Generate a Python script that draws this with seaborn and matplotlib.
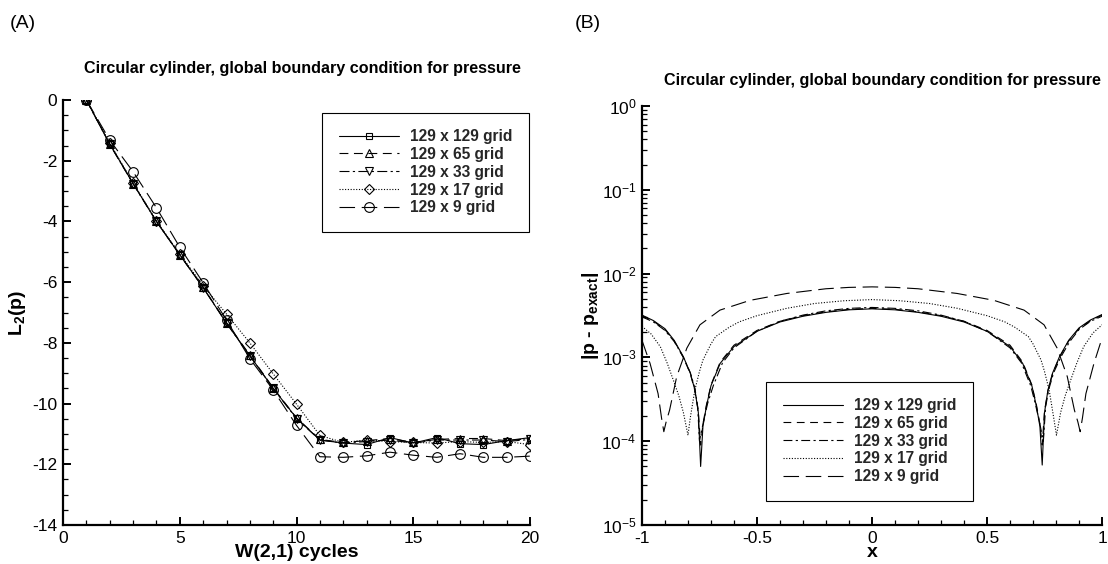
import matplotlib
matplotlib.use("Agg")
import matplotlib.pyplot as plt
import seaborn as sns
from matplotlib.ticker import MultipleLocator, LogLocator, FuncFormatter, NullFormatter
from matplotlib.lines import Line2D

# ---------------- data: panel (A) ----------------
cycles = list(range(1, 21))
l2_129x129 = [0.0, -1.45, -2.75, -4.0, -5.1, -6.18, -7.35, -8.42, -9.5, -10.48,
              -11.2, -11.3, -11.35, -11.12, -11.3, -11.12, -11.32, -11.35, -11.22, -11.12]
l2_129x65 = [0.0, -1.45, -2.75, -4.0, -5.1, -6.17, -7.33, -8.4, -9.48, -10.47,
             -11.18, -11.28, -11.22, -11.15, -11.28, -11.18, -11.15, -11.15, -11.22, -11.15]
l2_129x33 = [0.0, -1.46, -2.76, -4.0, -5.1, -6.18, -7.35, -8.43, -9.5, -10.5,
             -11.2, -11.3, -11.25, -11.2, -11.3, -11.2, -11.2, -11.2, -11.25, -11.18]
l2_129x17 = [0.0, -1.42, -2.73, -3.98, -5.07, -6.12, -7.05, -8.0, -9.02, -10.02,
             -11.05, -11.28, -11.2, -11.25, -11.28, -11.3, -11.25, -11.28, -11.25, -11.35]
l2_129x9 = [0.0, -1.32, -2.36, -3.55, -4.85, -6.02, -7.25, -8.52, -9.55, -10.72,
            -11.75, -11.77, -11.72, -11.6, -11.7, -11.77, -11.65, -11.77, -11.77, -11.73]

grid_labels = ["129 x 129 grid", "129 x 65 grid", "129 x 33 grid", "129 x 17 grid", "129 x 9 grid"]

# ---------------- data: panel (B) ----------------
x_129x129 = [-1.0, -0.95, -0.9, -0.86, -0.82, -0.79, -0.77, -0.755, -0.745, -0.735,
             -0.72, -0.7, -0.66, -0.6, -0.5, -0.4, -0.3, -0.2, -0.1, 0.0,
             0.1, 0.2, 0.3, 0.4, 0.5, 0.6, 0.655, 0.695, 0.715, 0.73,
             0.74, 0.75, 0.765, 0.785, 0.815, 0.855, 0.9, 0.95, 1.0]
err_129x129 = [3.2e-3, 2.75e-3, 2.2e-3, 1.6e-3, 1.02e-3, 6.5e-4, 4.1e-4, 2.2e-4, 5.0e-5, 1.5e-4,
               2.6e-4, 4.6e-4, 8.5e-4, 1.35e-3, 2.05e-3, 2.65e-3, 3.1e-3, 3.45e-3, 3.7e-3, 3.8e-3,
               3.7e-3, 3.45e-3, 3.1e-3, 2.65e-3, 2.05e-3, 1.35e-3, 8.5e-4, 4.6e-4, 2.6e-4, 1.5e-4,
               5.2e-5, 2.2e-4, 4.1e-4, 6.5e-4, 1.02e-3, 1.6e-3, 2.25e-3, 2.8e-3, 3.25e-3]
x_129x65 = x_129x129
err_129x65 = [3.15e-3, 2.7e-3, 2.15e-3, 1.57e-3, 1.0e-3, 6.4e-4, 4.0e-4, 2.3e-4, 9.0e-5, 1.6e-4,
              2.7e-4, 4.7e-4, 8.8e-4, 1.4e-3, 2.1e-3, 2.7e-3, 3.15e-3, 3.5e-3, 3.75e-3, 3.85e-3,
              3.75e-3, 3.5e-3, 3.15e-3, 2.7e-3, 2.1e-3, 1.4e-3, 8.8e-4, 4.7e-4, 2.7e-4, 1.6e-4,
              9.0e-5, 2.3e-4, 4.0e-4, 6.4e-4, 1.0e-3, 1.57e-3, 2.2e-3, 2.75e-3, 3.2e-3]
x_129x33 = [-1.0, -0.95, -0.9, -0.86, -0.82, -0.79, -0.77, -0.758, -0.75, -0.735,
            -0.715, -0.69, -0.65, -0.6, -0.5, -0.4, -0.3, -0.2, -0.1, 0.0,
            0.1, 0.2, 0.3, 0.4, 0.5, 0.6, 0.65, 0.69, 0.71, 0.73,
            0.745, 0.755, 0.77, 0.79, 0.82, 0.86, 0.9, 0.95, 1.0]
err_129x33 = [3.05e-3, 2.65e-3, 2.1e-3, 1.55e-3, 1.0e-3, 6.6e-4, 4.3e-4, 2.6e-4, 1.0e-4, 1.6e-4,
              2.8e-4, 4.6e-4, 8.6e-4, 1.3e-3, 2.05e-3, 2.7e-3, 3.2e-3, 3.6e-3, 3.85e-3, 3.95e-3,
              3.85e-3, 3.6e-3, 3.2e-3, 2.7e-3, 2.05e-3, 1.3e-3, 8.6e-4, 4.6e-4, 2.8e-4, 1.6e-4,
              1.0e-4, 2.6e-4, 4.3e-4, 6.6e-4, 1.0e-3, 1.55e-3, 2.15e-3, 2.7e-3, 3.1e-3]
x_129x17 = [-1.0, -0.96, -0.92, -0.89, -0.864, -0.84, -0.82, -0.8, -0.79, -0.78,
            -0.77, -0.75, -0.735, -0.7, -0.68, -0.62, -0.577, -0.5, -0.37, -0.25,
            -0.12, 0.0, 0.12, 0.25, 0.37, 0.5, 0.577, 0.62, 0.68, 0.7,
            0.735, 0.75, 0.77, 0.78, 0.79, 0.802, 0.82, 0.84, 0.864, 0.89,
            0.92, 0.96, 1.0]
err_129x17 = [2.35e-3, 1.9e-3, 1.34e-3, 8.5e-4, 5.4e-4, 3.5e-4, 2.2e-4, 1.18e-4, 1.9e-4, 2.8e-4,
              4.1e-4, 6.8e-4, 9.3e-4, 1.45e-3, 1.77e-3, 2.3e-3, 2.66e-3, 3.15e-3, 3.86e-3, 4.4e-3,
              4.75e-3, 4.9e-3, 4.75e-3, 4.4e-3, 3.86e-3, 3.15e-3, 2.66e-3, 2.3e-3, 1.77e-3, 1.45e-3,
              9.3e-4, 6.8e-4, 4.1e-4, 2.8e-4, 1.9e-4, 1.18e-4, 2.2e-4, 3.5e-4, 5.4e-4, 8.5e-4,
              1.34e-3, 1.95e-3, 2.45e-3]
x_129x9 = [-1.0, -0.965, -0.93, -0.915, -0.905, -0.895, -0.88, -0.849, -0.805, -0.748,
           -0.661, -0.53, -0.37, -0.2, -0.1, 0.0, 0.1, 0.2, 0.37, 0.53,
           0.661, 0.748, 0.805, 0.849, 0.88, 0.895, 0.905, 0.915, 0.93, 0.965, 1.0]
err_129x9 = [1.6e-3, 8.5e-4, 3.7e-4, 1.9e-4, 1.3e-4, 1.7e-4, 2.35e-4, 5.9e-4, 1.29e-3, 2.45e-3,
             3.67e-3, 4.8e-3, 5.8e-3, 6.6e-3, 6.85e-3, 6.95e-3, 6.85e-3, 6.6e-3, 5.8e-3, 4.8e-3,
             3.67e-3, 2.45e-3, 1.29e-3, 5.9e-4, 2.35e-4, 1.7e-4, 1.3e-4, 1.9e-4, 3.7e-4, 8.5e-4, 1.7e-3]

title_text = "Circular cylinder, global boundary condition for pressure"

# ---------------- style ----------------
sns.set_theme(style="white")
plt.rcParams["font.family"] = ["Liberation Sans", "DejaVu Sans"]
plt.rcParams["axes.unicode_minus"] = False
plt.rcParams["mathtext.fontset"] = "custom"
plt.rcParams["mathtext.rm"] = "Liberation Sans"
plt.rcParams["mathtext.it"] = "Liberation Sans:italic"
plt.rcParams["mathtext.bf"] = "Liberation Sans:bold"

fig = plt.figure(figsize=(11.08, 5.64), dpi=100)
axA = fig.add_axes([0.0569, 0.0691, 0.4215, 0.7535])
axB = fig.add_axes([0.5794, 0.0691, 0.4152, 0.7429])

line_styles_A = ["-", (0, (8, 5)), (0, (9, 3, 2, 3)), (0, (1, 1.5)), (0, (14, 6))]
markers_A = ["s", "^", "v", "D", "o"]
msizes_A = [5.0, 6.0, 6.0, 5.5, 7.0]
series_A = [l2_129x129, l2_129x65, l2_129x33, l2_129x17, l2_129x9]

lw = 0.8
order = [4, 3, 2, 1, 0]
for i in order:
    sns.lineplot(x=cycles, y=series_A[i], ax=axA, color="black", linestyle=line_styles_A[i],
                 linewidth=lw, marker=markers_A[i], markersize=msizes_A[i],
                 markerfacecolor="none", markeredgecolor="black", markeredgewidth=0.8,
                 legend=False)

axA.set_xlim(0, 20)
axA.set_ylim(-14, 0)
axA.xaxis.set_major_locator(MultipleLocator(5))
axA.xaxis.set_minor_locator(MultipleLocator(1))
axA.yaxis.set_major_locator(MultipleLocator(2))
axA.yaxis.set_minor_locator(MultipleLocator(0.5))
axA.xaxis.set_major_formatter(FuncFormatter(lambda v, p: "%g" % v))
axA.yaxis.set_major_formatter(FuncFormatter(lambda v, p: "%g" % v))

leg_kw = dict(borderaxespad=0, frameon=True, fancybox=False, edgecolor="black",
              framealpha=1, prop={"weight": "bold", "size": 11.2}, handlelength=3.9,
              labelspacing=0.18, handletextpad=0.7, borderpad=1.05)

handlesA = [Line2D([0], [0], color="black", linestyle=line_styles_A[i], linewidth=lw,
                   marker=markers_A[i], markersize=msizes_A[i], markerfacecolor="none",
                   markeredgecolor="black", markeredgewidth=0.8) for i in range(5)]
legA = axA.legend(handlesA, grid_labels, loc="upper left", bbox_to_anchor=(0.555, 0.97),
                  numpoints=1, **leg_kw)
legA.get_frame().set_linewidth(0.8)

# panel B
axB.set_yscale("log")
line_styles_B = ["-", (0, (7, 5)), (0, (8, 3, 2, 3)), (0, (1, 1.5)), (0, (14, 6))]
xs_B = [x_129x129, x_129x65, x_129x33, x_129x17, x_129x9]
ys_B = [err_129x129, err_129x65, err_129x33, err_129x17, err_129x9]
for i in range(5):
    sns.lineplot(x=xs_B[i], y=ys_B[i], ax=axB, color="black", linestyle=line_styles_B[i],
                 linewidth=lw, legend=False)
axB.set_xlim(-1, 1)
axB.set_ylim(1e-5, 1)
axB.xaxis.set_major_locator(MultipleLocator(0.5))
axB.xaxis.set_minor_locator(MultipleLocator(0.1))
axB.xaxis.set_major_formatter(FuncFormatter(lambda v, p: "%g" % v))
axB.yaxis.set_major_locator(LogLocator(base=10, numticks=10))
axB.yaxis.set_minor_locator(LogLocator(base=10, subs=range(2, 10), numticks=100))
axB.yaxis.set_minor_formatter(NullFormatter())

handlesB = [Line2D([0], [0], color="black", linestyle=line_styles_B[i], linewidth=lw)
            for i in range(5)]
legB = axB.legend(handlesB, grid_labels, loc="upper left", bbox_to_anchor=(0.27, 0.342),
                  **leg_kw)
legB.get_frame().set_linewidth(0.8)

for ax in (axA, axB):
    sns.despine(ax=ax)
    ax.spines["left"].set_linewidth(1.6)
    ax.spines["bottom"].set_linewidth(1.6)
    ax.spines["left"].set_color("black")
    ax.spines["bottom"].set_color("black")
    ax.tick_params(which="major", direction="in", length=6, width=1.4, color="black",
                   labelsize=12.5, pad=4, left=True, bottom=True, labelcolor="black")
    ax.tick_params(which="minor", direction="in", length=3.5, width=0.9, color="black",
                   left=True, bottom=True)
    ax.grid(False)

axA.set_xlabel("W(2,1) cycles", fontsize=14, fontweight="bold", color="black")
axA.xaxis.set_label_coords(0.5, -0.0635)
axA.set_ylabel(r"L$_{\mathbf{2}}$(p)", fontsize=14, fontweight="bold", color="black")
axA.yaxis.set_label_coords(-0.0985, 0.5)
axB.set_xlabel("x", fontsize=14, fontweight="bold", color="black")
axB.xaxis.set_label_coords(0.5, -0.0644)
axB.set_ylabel(r"|p - p$_{\mathbf{exact}}$|", fontsize=14, fontweight="bold", color="black")
axB.yaxis.set_label_coords(-0.111, 0.5)
for lab in (axA.xaxis.label, axB.xaxis.label):
    lab.set_va("center")
for lab in (axA.yaxis.label, axB.yaxis.label):
    lab.set_va("center")

fig.text(302 / 1108, 1 - 68 / 564, title_text, ha="center", va="center",
         fontsize=11.6, fontweight="bold", color="black")
fig.text(882 / 1108, 1 - 80 / 564, title_text, ha="center", va="center",
         fontsize=11.6, fontweight="bold", color="black")
fig.text(10 / 1108, 1 - 23 / 564, "(A)", ha="left", va="center", fontsize=14, color="black")
fig.text(575 / 1108, 1 - 23 / 564, "(B)", ha="left", va="center", fontsize=14, color="black")

fig.savefig("out.png", dpi=100, facecolor="white")
